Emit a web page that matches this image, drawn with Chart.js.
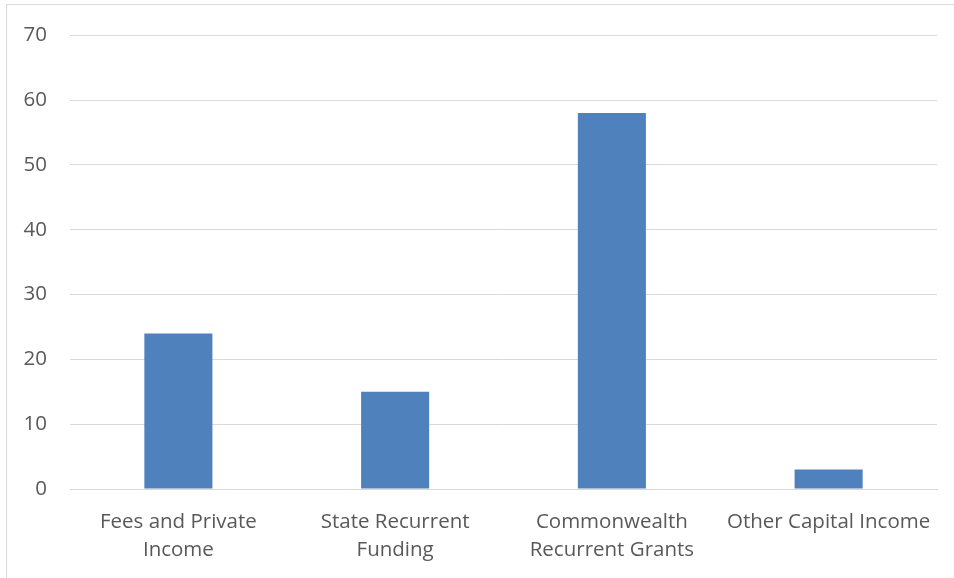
<!DOCTYPE html>
<html>
<head>
<meta charset="utf-8">
<script src="https://cdn.jsdelivr.net/npm/chart.js@4/dist/chart.umd.min.js"></script>
<style>
  html, body { margin: 0; padding: 0; background: #fff; }
  body { width: 954px; height: 578px; position: relative; overflow: hidden; }
  .frame { position: absolute; left: 6px; top: 4px; width: 960px; height: 600px; border: 1px solid #d9d9d9; box-sizing: border-box; }
  #wrap { position: absolute; left: 0; top: 0; width: 954px; height: 578px; }
</style>
</head>
<body>
<div class="frame"></div>
<div id="wrap"><canvas id="chart"></canvas></div>
<script>
// ===== DATA =====
const categories = [
    ['Fees and Private', 'Income'],
    ['State Recurrent', 'Funding'],
    ['Commonwealth', 'Recurrent Grants'],
    'Other Capital Income'
];
const values = [24, 15, 58, 3];
const yTicks = [0, 10, 20, 30, 40, 50, 60, 70];

const textColor = '#595959';
const gridColor = '#d9d9d9';
const barColor = '#4f81bd';
const xFont = { family: '"Open Sans", "Noto Sans", sans-serif', size: 20.5, lineHeight: 1.36 };
const yFont = { family: '"Open Sans", "Noto Sans", sans-serif', size: 20.5 };

new Chart(document.getElementById('chart'), {
    type: 'bar',
    data: {
        labels: categories,
        datasets: [{
            data: values,
            backgroundColor: barColor,
            borderWidth: 0,
            categoryPercentage: 1,
            barPercentage: 0.314
        }]
    },
    options: {
        responsive: true,
        maintainAspectRatio: false,
        animation: false,
        layout: { padding: { top: 34, right: 17, left: 0, bottom: 0 } },
        plugins: { legend: { display: false }, tooltip: { enabled: false } },
        scales: {
            x: {
                grid: { display: false, drawTicks: false },
                border: { display: true, color: gridColor, width: 1 },
                ticks: { color: textColor, font: xFont, padding: 19, maxRotation: 0, autoSkip: false },
                afterFit: s => { s.height = 89; }
            },
            y: {
                min: 0, max: 70,
                afterBuildTicks: s => { s.ticks = yTicks.map(v => ({ value: v })); },
                grid: { color: gridColor, lineWidth: 1, drawTicks: false },
                border: { display: false },
                ticks: { color: textColor, font: yFont, padding: 23 },
                afterFit: s => { s.width = 70; }
            }
        }
    }
});
</script>
</body>
</html>
